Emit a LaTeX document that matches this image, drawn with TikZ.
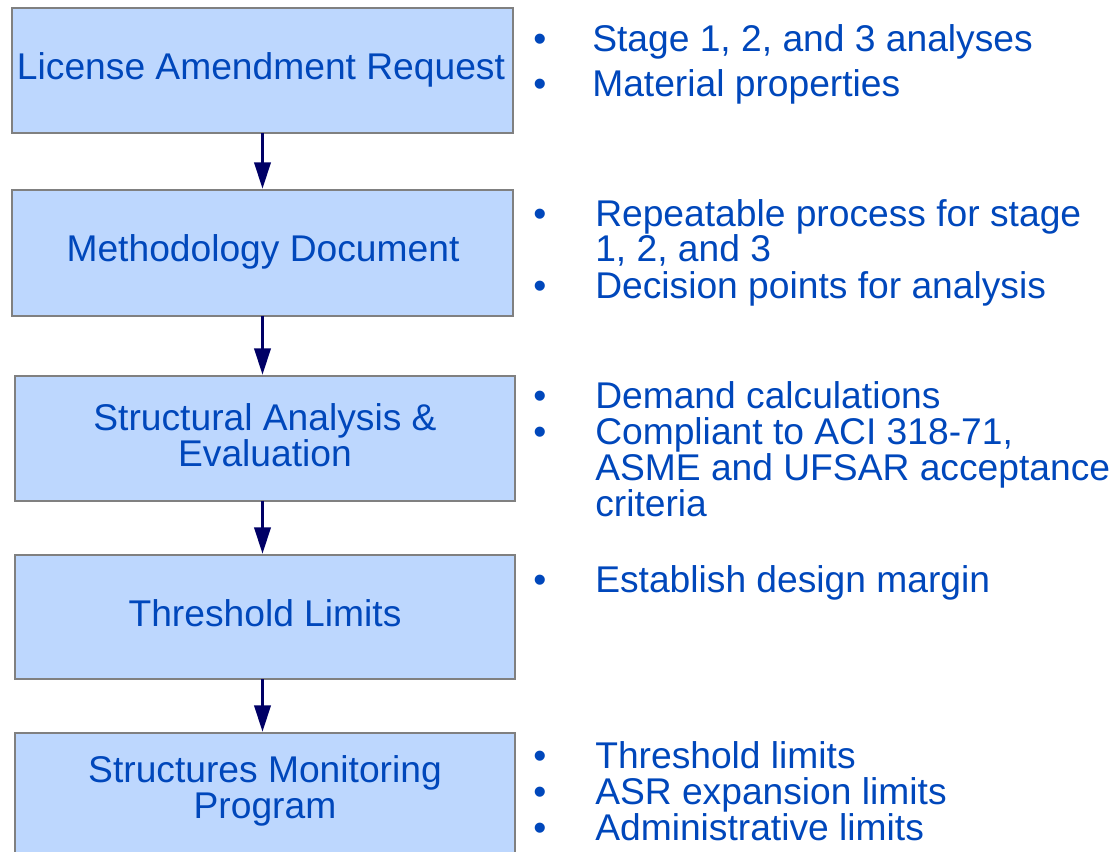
\documentclass[tikz,border=0pt]{standalone}
\usepackage{fontspec}
\setmainfont{Liberation Sans}
\usetikzlibrary{arrows.meta}
\definecolor{boxfill}{HTML}{BDD7FE}
\definecolor{boxline}{HTML}{808080}
\definecolor{txtblue}{HTML}{0047BB}
\definecolor{arrownavy}{HTML}{000066}
\tikzset{
  flowbox/.style={draw=boxline, line width=1.5pt, fill=boxfill, rectangle,
    inner sep=0pt},
  boxtext/.style={inner sep=0pt, text=txtblue, align=center,
    font=\fontsize{27.9pt}{27pt}\selectfont},
  bulletline/.style={anchor=base west, inner sep=0pt, text=txtblue,
    font=\fontsize{27.9pt}{27pt}\selectfont},
  bulletdot/.style={anchor=base, inner sep=0pt, text=txtblue,
    font=\fontsize{27.9pt}{27pt}\selectfont},
  flowarrow/.style={draw=arrownavy, line width=2.8pt,
    -{Triangle[length=20pt,width=12pt]}}
}
\begin{document}
\begin{tikzpicture}[x=0.75pt,y=-0.75pt]
\useasboundingbox (0,0) rectangle (1115,852);
\clip (0,0) rectangle (1115,852);
% boxes
\node[flowbox, minimum width=375.75pt, minimum height=93.75pt] (b1) at (262.5,70.5) {};
\node[flowbox, minimum width=375.75pt, minimum height=94.5pt] (b2) at (262.5,253) {};
\node[flowbox, minimum width=375pt, minimum height=93.75pt] (b3) at (265,438.5) {};
\node[flowbox, minimum width=375pt, minimum height=93pt] (b4) at (265,617) {};
\node[flowbox, minimum width=375pt, minimum height=93.75pt] (b5) at (265,795.5) {};
% box texts
\node[boxtext] (b1t) at (261,69.5) {License Amendment Request};
\node[boxtext] (b2t) at (263,252) {Methodology Document};
\node[boxtext] (b3t) at (265,435) {Structural Analysis \&\\Evaluation};
\node[boxtext] (b4t) at (265,613) {Threshold Limits};
\node[boxtext] (b5t) at (265,791) {Structures Monitoring\\Program};
% arrows
\coordinate (a1s) at (262.5,133);
\coordinate (a2s) at (262.5,316);
\coordinate (a3s) at (262.5,501);
\coordinate (a4s) at (262.5,679);
\draw[flowarrow] (a1s) -- (a1s |- b2.north);
\draw[flowarrow] (a2s) -- (a2s |- b3.north);
\draw[flowarrow] (a3s) -- (a3s |- b4.north);
\draw[flowarrow] (a4s) -- (a4s |- b5.north);
% group 1
\node[bulletdot] (d11) at (540,52) {•};
\node[bulletline] (t11) at (592,52) {Stage 1, 2, and 3 analyses};
\node[bulletdot] (d12) at (540,97) {•};
\node[bulletline] (t12) at (592,97) {Material properties};
% group 2
\node[bulletdot] (d21) at (540,227) {•};
\node[bulletline] (t21) at (595,227) {Repeatable process for stage};
\node[bulletline] (t22) at (595,262) {1, 2, and 3};
\node[bulletdot] (d22) at (540,299) {•};
\node[bulletline] (t23) at (595,299) {Decision points for analysis};
% group 3
\node[bulletdot] (d31) at (540,409) {•};
\node[bulletline] (t31) at (595,409) {Demand calculations};
\node[bulletdot] (d32) at (540,445) {•};
\node[bulletline] (t32) at (595,445) {Compliant to ACI 318-71,};
\node[bulletline] (t33) at (595,481) {ASME and UFSAR acceptance};
\node[bulletline] (t34) at (595,517) {criteria};
% group 4
\node[bulletdot] (d41) at (540,592) {•};
\node[bulletline] (t41) at (595,592) {Establish design margin};
% group 5
\node[bulletdot] (d51) at (540,768) {•};
\node[bulletline] (t51) at (595,768) {Threshold limits};
\node[bulletdot] (d52) at (540,804) {•};
\node[bulletline] (t52) at (595,804) {ASR expansion limits};
\node[bulletdot] (d53) at (540,840) {•};
\node[bulletline] (t53) at (595,840) {Administrative limits};
\end{tikzpicture}
\end{document}
